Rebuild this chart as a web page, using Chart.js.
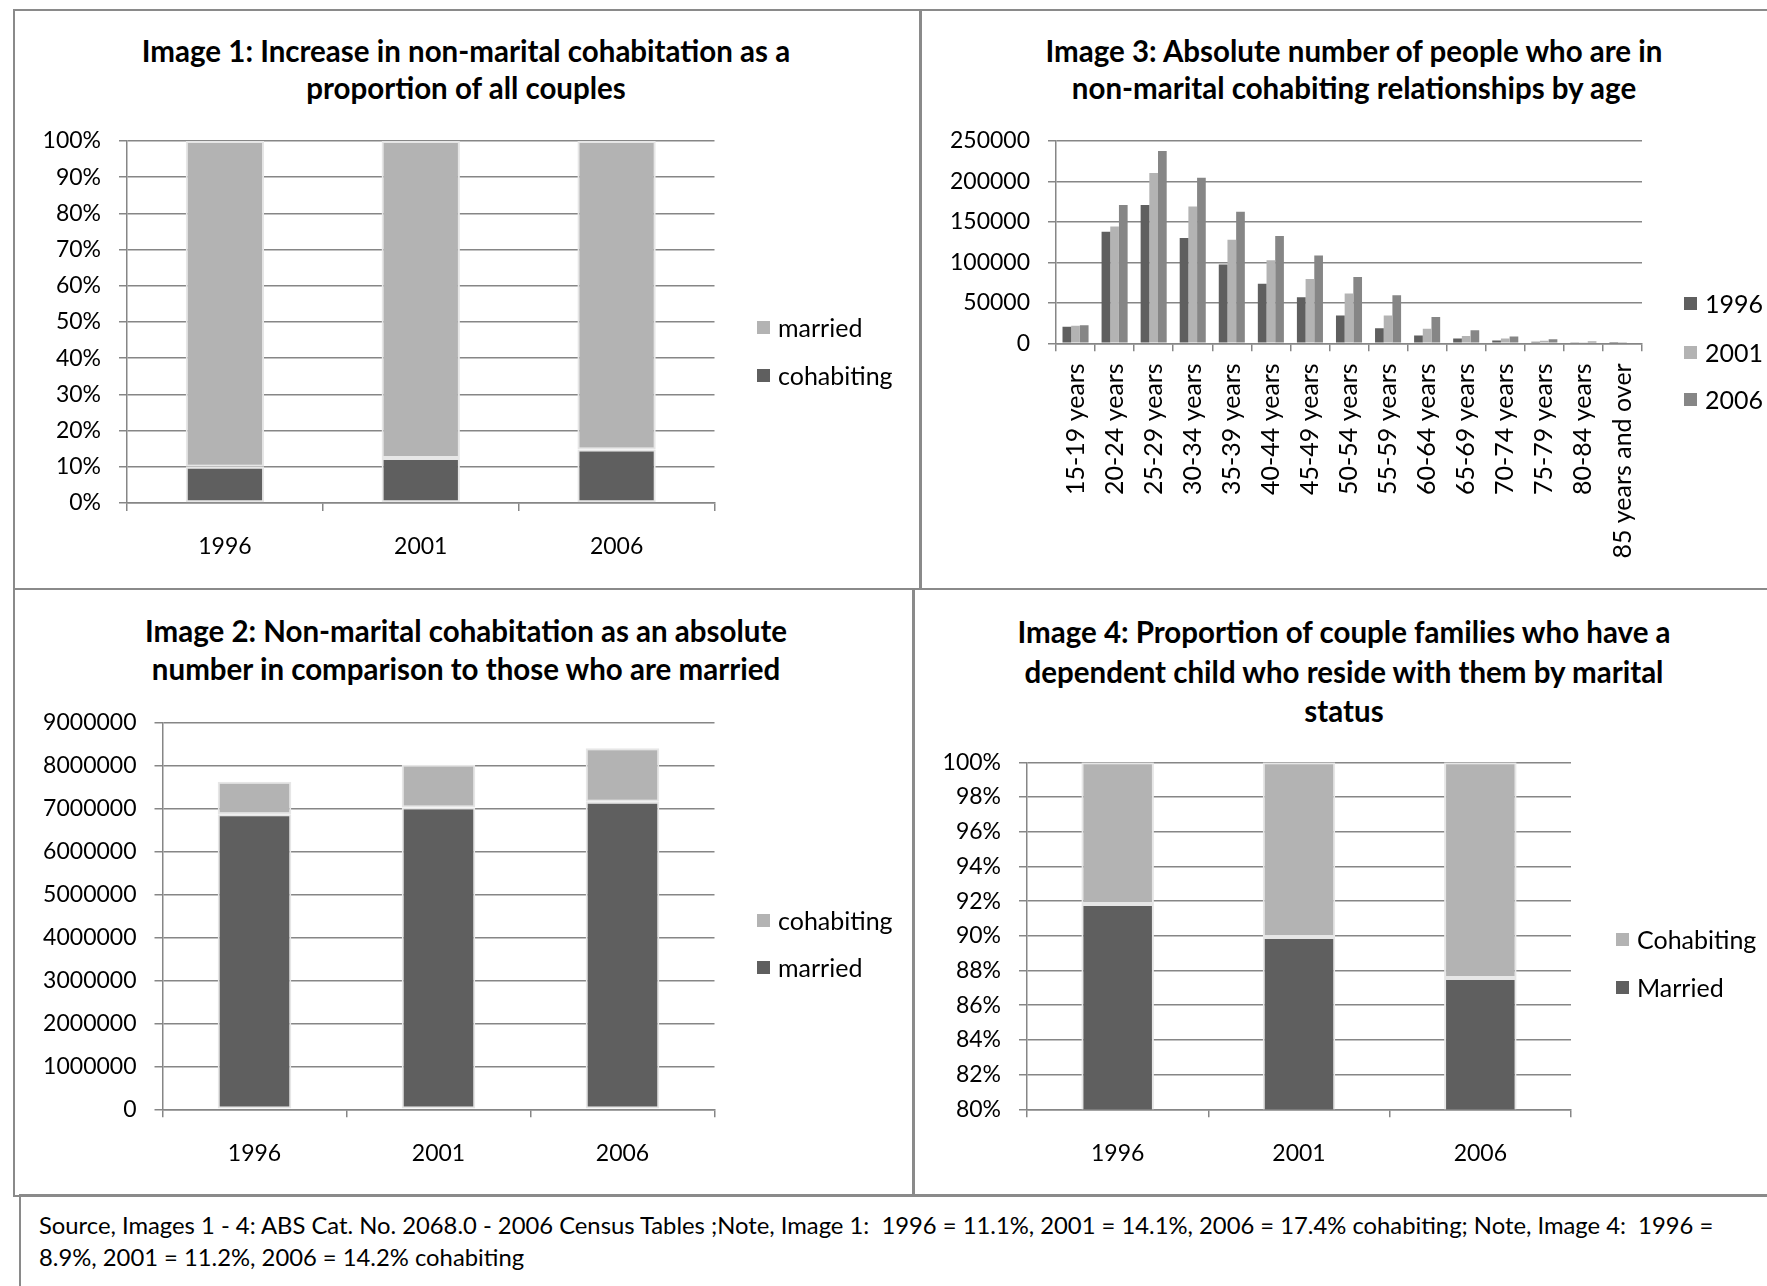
<!DOCTYPE html>
<html><head><meta charset="utf-8">
<script src="https://cdn.jsdelivr.net/npm/chart.js@4.4.1/dist/chart.umd.min.js"></script>
<style>
html,body{margin:0;padding:0;background:#fff;width:1767px;height:1286px;overflow:hidden;font-family:Lato,'Open Sans',sans-serif;}
.box{position:absolute;border:2px solid #8a8a8a;box-sizing:border-box;}
.title{position:absolute;font-weight:bold;font-size:29.5px;line-height:38px;text-align:center;color:#000;white-space:nowrap;transform:translateX(-50%);}
.leg{position:absolute;font-size:25px;color:#000;white-space:nowrap;line-height:30px;height:30px;}
.sw{position:absolute;width:13px;height:13px;top:9px;left:0;}
.legt{position:absolute;top:0;}
canvas{position:absolute;}
.src{position:absolute;left:39px;top:1209px;font-size:23.8px;line-height:32px;color:#000;white-space:nowrap;}
</style></head>
<body>
<div class="box" style="left:13px;top:9px;width:909px;height:581px;"></div>
<div class="box" style="left:919px;top:9px;width:880px;height:581px;"></div>
<div class="box" style="left:13px;top:588px;width:902px;height:609px;"></div>
<div class="box" style="left:912px;top:588px;width:880px;height:609px;"></div>
<div class="box" style="left:19px;top:1194px;width:1780px;height:120px;"></div>

<div class="title" style="left:466px;top:32px;line-height:37px;">Image 1: Increase in non-marital cohabitation as a<br>proportion of all couples</div>
<div class="title" style="left:1354px;top:32px;line-height:37px;">Image 3: Absolute number of people who are in<br>non-marital cohabiting relationships by age</div>
<div class="title" style="left:466px;top:612px;">Image 2: Non-marital cohabitation as an absolute<br>number in comparison to those who are married</div>
<div class="title" style="left:1344px;top:612px;line-height:39.5px;">Image 4: Proportion of couple families who have a<br>dependent child who reside with them by marital<br>status</div>

<canvas id="c1"></canvas>
<canvas id="c2"></canvas>
<canvas id="c3"></canvas>
<canvas id="c4"></canvas>
<div id="legends"></div>

<div class="src">Source, Images 1 - 4: ABS Cat. No. 2068.0 - 2006 Census Tables ;Note, Image 1:&nbsp; 1996 = 11.1%, 2001 = 14.1%, 2006 = 17.4% cohabiting; Note, Image 4:&nbsp; 1996 =<br>8.9%, 2001 = 11.2%, 2006 = 14.2% cohabiting</div>

<script>
// ---------- data ----------
const years = ['1996', '2001', '2006'];

// Image 1 (% of all couples)
const img1Cohabiting = [10.0, 12.4, 14.8];
const img1Married = [90.0, 87.6, 85.2];

// Image 2 (absolute numbers)
const img2Married = [6860000, 7020000, 7150000];
const img2Cohabiting = [760000, 990000, 1245000];

// Image 3 (people in cohabiting relationships by age)
const ageGroups = ['15-19 years', '20-24 years', '25-29 years', '30-34 years', '35-39 years',
  '40-44 years', '45-49 years', '50-54 years', '55-59 years', '60-64 years', '65-69 years',
  '70-74 years', '75-79 years', '80-84 years', '85 years and over'];
const img3Y1996 = [20600, 138000, 171000, 130000, 97500, 73500, 57000, 34500, 18500, 9500, 6000, 3500, 1800, 700, 200];
const img3Y2001 = [21800, 144300, 210500, 169000, 128000, 102500, 79500, 61500, 34500, 18000, 9000, 6000, 3200, 1200, 500];
const img3Y2006 = [22300, 171000, 237500, 204500, 162500, 132500, 108500, 82000, 59500, 32500, 16000, 8500, 5000, 2200, 1000];

// Image 4 (% of couple families with dependent child)
const img4Married = [91.83, 89.93, 87.57];
const img4Cohabiting = [8.17, 10.07, 12.43];

// ---------- styles ----------
const DARK = '#5f5f5f', LIGHT = '#b3b3b3', MID = '#868686';
const GRID = '#868686';
const TICKFONT = {family: 'Lato', size: 23};
const pct = v => v + '%';
const plain = v => String(v);

function makeChart(id, box, area, cfg) {
  const cv = document.getElementById(id);
  cv.width = box.w; cv.height = box.h;
  cv.style.left = box.l + 'px'; cv.style.top = box.t + 'px';
  cv.style.width = box.w + 'px'; cv.style.height = box.h + 'px';
  const rot = cfg.rot || 0;
  return new Chart(cv, {
    type: 'bar',
    data: {labels: cfg.labels, datasets: cfg.datasets},
    options: {
      responsive: false, animation: false, devicePixelRatio: 1,
      layout: {padding: {top: area.t - box.t, right: box.l + box.w - area.r, left: 0, bottom: 0}},
      plugins: {legend: {display: false}, tooltip: {enabled: false}, title: {display: false}},
      datasets: {bar: {categoryPercentage: cfg.catPct, barPercentage: 1}},
      scales: {
        x: {
          stacked: cfg.stacked,
          grid: {display: true, drawOnChartArea: false, drawTicks: true, tickLength: 8, offset: true, color: GRID, lineWidth: 1.5},
          border: {display: true, color: GRID, width: 1.5},
          ticks: {font: cfg.xFont || TICKFONT, color: '#000', padding: cfg.xPad, maxRotation: rot, minRotation: rot, autoSkip: false},
          afterFit: s => { s.height = box.t + box.h - area.b; }
        },
        y: {
          stacked: cfg.stacked, min: cfg.min, max: cfg.max,
          grid: {color: GRID, lineWidth: 1.5, tickLength: 8, drawTicks: true},
          border: {display: true, color: GRID, width: 1.5},
          ticks: {stepSize: cfg.step, font: TICKFONT, color: '#000', padding: 18, autoSkip: false, callback: cfg.fmt},
          afterFit: s => { s.width = area.l - box.l; }
        }
      }
    }
  });
}

const barBorder = {borderColor: '#e6e6e6', borderWidth: 2, borderSkipped: false};

makeChart('c1', {l: 15, t: 11, w: 900, h: 576}, {l: 127, r: 714.5, t: 141, b: 503}, {
  labels: years, stacked: true, catPct: 0.4, min: 0, max: 100, step: 10, fmt: pct, xPad: 22,
  datasets: [
    Object.assign({label: 'cohabiting', data: img1Cohabiting, backgroundColor: DARK}, barBorder),
    Object.assign({label: 'married', data: img1Married, backgroundColor: LIGHT}, barBorder)
  ]
});

makeChart('c2', {l: 15, t: 592, w: 895, h: 600}, {l: 162.5, r: 714.5, t: 722.3, b: 1109.3}, {
  labels: years, stacked: true, catPct: 0.4, min: 0, max: 9000000, step: 1000000, fmt: plain, xPad: 22,
  datasets: [
    Object.assign({label: 'married', data: img2Married, backgroundColor: DARK}, barBorder),
    Object.assign({label: 'cohabiting', data: img2Cohabiting, backgroundColor: LIGHT}, barBorder)
  ]
});

makeChart('c3', {l: 922, t: 11, w: 843, h: 576}, {l: 1056, r: 1642, t: 141, b: 343.3}, {
  labels: ageGroups, stacked: false, catPct: 0.667, min: 0, max: 250000, step: 50000, fmt: plain, xPad: 12, rot: 90,
  xFont: {family: 'Lato', size: 25},
  datasets: [
    {label: '1996', data: img3Y1996, backgroundColor: DARK},
    {label: '2001', data: img3Y2001, backgroundColor: LIGHT},
    {label: '2006', data: img3Y2006, backgroundColor: MID}
  ]
});

makeChart('c4', {l: 915, t: 592, w: 850, h: 600}, {l: 1027, r: 1571, t: 762.3, b: 1109.3}, {
  labels: years, stacked: true, catPct: 0.4, min: 80, max: 100, step: 2, fmt: pct, xPad: 22,
  datasets: [
    Object.assign({label: 'Married', data: img4Married, backgroundColor: DARK}, barBorder),
    Object.assign({label: 'Cohabiting', data: img4Cohabiting, backgroundColor: LIGHT}, barBorder)
  ]
});

// ---------- legends (HTML) ----------
const legendSets = [
  {x: 757, ys: [327, 375], items: [['married', LIGHT], ['cohabiting', DARK]]},
  {x: 757, ys: [920, 967], items: [['cohabiting', LIGHT], ['married', DARK]]},
  {x: 1684, ys: [303, 351.7, 399], items: [['1996', DARK], ['2001', LIGHT], ['2006', MID]]},
  {x: 1616, ys: [939, 987], items: [['Cohabiting', LIGHT], ['Married', DARK]]}
];
const lg = document.getElementById('legends');
legendSets.forEach(s => {
  s.items.forEach((it, i) => {
    const d = document.createElement('div');
    d.className = 'leg';
    d.style.left = s.x + 'px';
    d.style.top = (s.ys[i] - 15) + 'px';
    d.innerHTML = '<span class="sw" style="background:' + it[1] + '"></span><span class="legt" style="left:21px">' + it[0] + '</span>';
    lg.appendChild(d);
  });
});
</script>
</body></html>
